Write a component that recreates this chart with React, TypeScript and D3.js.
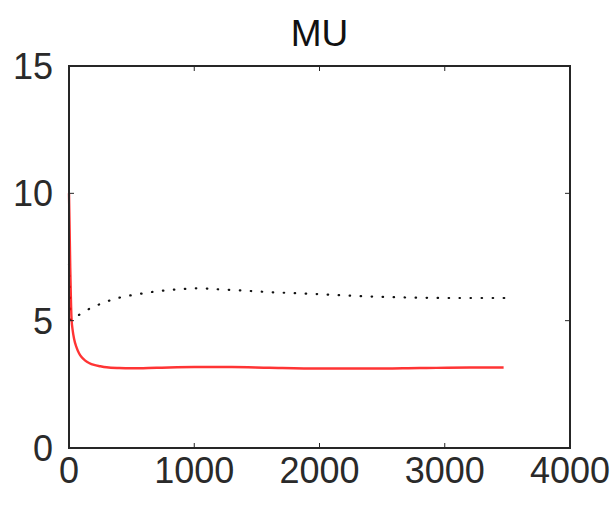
import React from 'react'
import * as d3 from 'd3'

// ── Data ─────────────────────────────────────────────────────────────────────
const redX = [0, 5, 10, 15, 20, 30, 40, 60, 80, 100, 130, 160, 200, 250, 300, 400, 500, 700, 1000, 1300, 1600, 2000, 2400, 2800, 3200, 3470]
const redY = [10.0, 8.6, 7.1, 5.9, 5.1, 4.6, 4.3, 3.95, 3.72, 3.57, 3.43, 3.34, 3.26, 3.21, 3.17, 3.14, 3.13, 3.15, 3.18, 3.18, 3.15, 3.12, 3.12, 3.14, 3.16, 3.16]

const dotX = [0, 5, 10, 20, 50, 100, 200, 300, 400, 500, 600, 700, 800, 900, 1000, 1100, 1200, 1400, 1600, 1800, 2000, 2200, 2400, 2600, 2800, 3000, 3200, 3480]
const dotY = [7.2, 6.5, 5.8, 5.0, 5.1, 5.3, 5.55, 5.75, 5.9, 6.0, 6.08, 6.15, 6.2, 6.24, 6.27, 6.26, 6.23, 6.18, 6.12, 6.08, 6.04, 5.99, 5.95, 5.92, 5.9, 5.89, 5.89, 5.89]

const xTicks = [0, 1000, 2000, 3000, 4000]
const yTicks = [0, 5, 10, 15]
const title = 'MU'

const W = 613
const H = 508
const M = { left: 69, right: 43, top: 66, bottom: 60 }
const FONT = 'Liberation Sans, Arial, Helvetica, sans-serif'
const AXIS = '#262626'

export default function App() {
  const x = d3.scaleLinear().domain([0, 4000]).range([M.left, W - M.right])
  const y = d3.scaleLinear().domain([0, 15]).range([H - M.bottom, M.top])

  const line = d3.line<[number, number]>()
    .x((d) => x(d[0]))
    .y((d) => y(d[1]))
    .curve(d3.curveMonotoneX)

  const redPts = redX.map((v, i) => [v, redY[i]] as [number, number])
  const dotPts = dotX.map((v, i) => [v, dotY[i]] as [number, number])
  const dotLine = d3.line<[number, number]>().x((d) => x(d[0])).y((d) => y(d[1])).curve(d3.curveCatmullRom)

  const [x0, x1] = x.range()
  const [y0, y1] = y.range()
  const tickLen = 5

  return (
    <div style={{ position: 'fixed', left: 0, top: 0, background: '#fff' }}>
      <svg width={W} height={H} style={{ display: 'block' }} fontFamily={FONT}>
        <rect width={W} height={H} fill="#fff" />

        {/* series */}
        <path d={dotLine(dotPts) ?? ''} fill="none" stroke="#111" strokeWidth={2.2}
          strokeDasharray="0.5 10.5" strokeLinecap="round" />
        <path d={line(redPts) ?? ''} fill="none" stroke="#ff1010" strokeWidth={2.4} strokeOpacity={0.85} />

        {/* box */}
        <rect x={x0} y={y1} width={x1 - x0} height={y0 - y1} fill="none" stroke={AXIS} strokeWidth={2} />

        {/* x ticks */}
        {xTicks.map((t) => (
          <g key={`x${t}`}>
            <line x1={x(t)} x2={x(t)} y1={y0} y2={y0 - tickLen} stroke={AXIS} strokeWidth={1} />
            <line x1={x(t)} x2={x(t)} y1={y1} y2={y1 + tickLen} stroke={AXIS} strokeWidth={1} />
            <text x={x(t)} y={y0 + 35} textAnchor="middle" fontSize={36} fill="#2a2a2a">{t}</text>
          </g>
        ))}

        {/* y ticks */}
        {yTicks.map((t) => (
          <g key={`y${t}`}>
            <line x1={x0} x2={x0 + tickLen} y1={y(t)} y2={y(t)} stroke={AXIS} strokeWidth={1} />
            <line x1={x1} x2={x1 - tickLen} y1={y(t)} y2={y(t)} stroke={AXIS} strokeWidth={1} />
            <text x={x0 - 16} y={y(t) + 13} textAnchor="end" fontSize={36} fill="#2a2a2a">{t}</text>
          </g>
        ))}

        <text x={(x0 + x1) / 2} y={46} textAnchor="middle" fontSize={37} fill="#111">{title}</text>
      </svg>
    </div>
  )
}
